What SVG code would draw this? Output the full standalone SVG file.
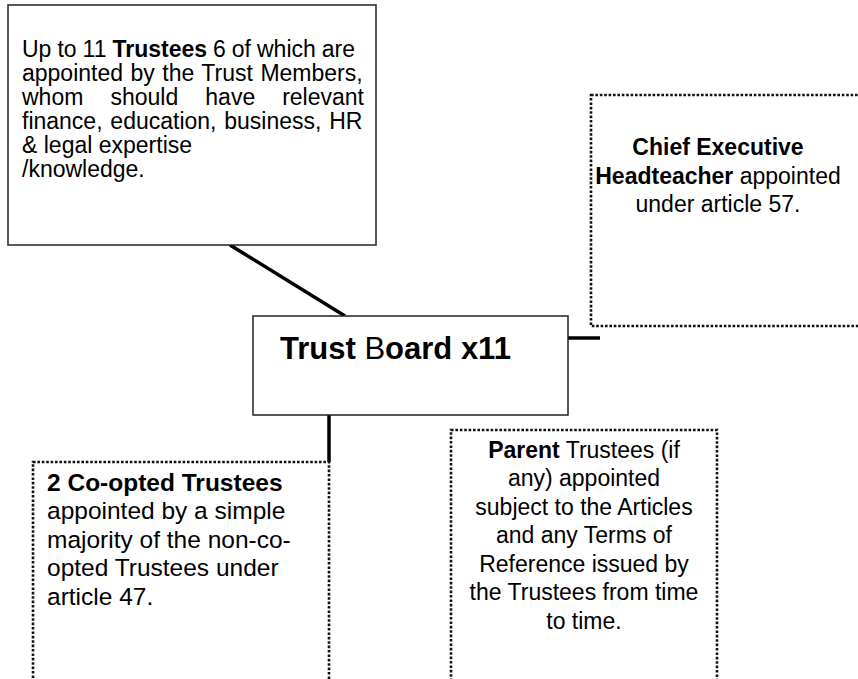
<svg xmlns="http://www.w3.org/2000/svg" width="858" height="679" viewBox="0 0 858 679">
<style>
.solid{fill:#fff;stroke:#222;stroke-width:1.5}
.dot{fill:#fff;stroke:#111;stroke-width:2.6;stroke-dasharray:2.6 1.8}
.conn{stroke:#000;stroke-width:3.5;fill:none}
text{font-family:"Liberation Sans",Arial,sans-serif;font-size:23px;fill:#000}
.b{font-weight:bold}
.c{text-anchor:middle}
.big{font-size:24.5px}
</style>
<rect width="858" height="679" fill="#fff"/>
<g id="connectors">
<line class="conn" x1="230" y1="245" x2="345" y2="316"/>
<line class="conn" x1="568" y1="338" x2="600" y2="338"/>
<line class="conn" x1="329" y1="415" x2="329" y2="462"/>
</g>
<g id="trustees">
<rect class="solid" x="8" y="5" width="368" height="240"/>
<text x="22" y="57" word-spacing="-0.4">Up to 11 <tspan class="b">Trustees</tspan> 6 of which are</text>
<text x="22" y="81" word-spacing="1.1">appointed by the Trust Members,</text>
<text y="105"><tspan x="22">whom</tspan><tspan x="110.4">should</tspan><tspan x="205.3">have</tspan><tspan x="364" text-anchor="end">relevant</tspan></text>
<text x="22" y="129" word-spacing="1.4">finance, education, business, HR</text>
<text x="22" y="153">&amp; legal expertise</text>
<text x="22" y="177">/knowledge.</text>
</g>
<g id="board">
<rect class="solid" x="253" y="316" width="315" height="99"/>
<text x="280" y="359" style="font-size:31px"><tspan class="b">Trust</tspan> B<tspan class="b">oard x11</tspan></text>
</g>
<g id="ceo">
<rect class="dot" x="591" y="95" width="280" height="231"/>
<text class="c b" x="718" y="155">Chief Executive</text>
<text class="c" x="718" y="184"><tspan class="b">Headteacher</tspan> appointed</text>
<text class="c" x="718" y="212">under article 57.</text>
</g>
<g id="coopted">
<rect class="dot" x="33" y="462" width="296" height="230"/>
<text class="b big" x="47" y="491">2 Co-opted Trustees</text>
<text class="big" x="47" y="519">appointed by a simple</text>
<text class="big" x="47" y="548">majority of the non-co-</text>
<text class="big" x="47" y="576">opted Trustees under</text>
<text class="big" x="47" y="605">article 47.</text>
</g>
<g id="parent">
<rect class="dot" x="451" y="430" width="266" height="260"/>
<text class="c" x="584" y="458"><tspan class="b">Parent</tspan> Trustees (if</text>
<text class="c" x="584" y="486">any) appointed</text>
<text class="c" x="584" y="515">subject to the Articles</text>
<text class="c" x="584" y="543">and any Terms of</text>
<text class="c" x="584" y="572">Reference issued by</text>
<text class="c" x="584" y="600">the Trustees from time</text>
<text class="c" x="584" y="629">to time.</text>
</g>
</svg>
